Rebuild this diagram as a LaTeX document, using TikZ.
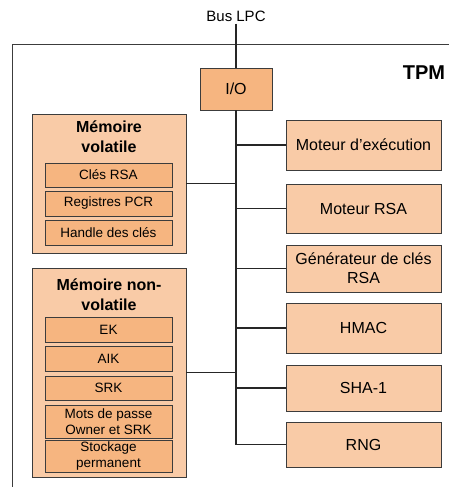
\documentclass[tikz,border=0pt]{standalone}
\usepackage{fontspec}
\setmainfont{Liberation Sans}

\definecolor{peach}{HTML}{F9CBA7}
\definecolor{peachdark}{HTML}{F6B580}
\definecolor{edgegray}{HTML}{3C3C3C}

\tikzset{
    blockbox/.style={draw=edgegray, fill=peach, line width=0.8pt, inner sep=0pt, align=center,
        font=\fontsize{16}{19}\selectfont},
    cellbox/.style={draw=edgegray, fill=peachdark, line width=0.8pt, inner sep=0pt, align=center,
        minimum width=127pt, font=\fontsize{13.5}{16}\selectfont},
    memtitle/.style={inner sep=0pt, align=center, font=\fontsize{16}{20}\selectfont\bfseries},
    wire/.style={draw=black!85, line width=1.6pt},
}

\begin{document}
\begin{tikzpicture}[
        x=1pt,   % 1 px = 1pt
        y=-1pt,  % y runs downwards, as in the image
    ]
    \useasboundingbox (0,0) rectangle (449,487);

    % TPM frame (cut by the picture edge)
    \draw[edgegray, line width=0.8pt] (449,44) -- (12,44) -- (12,487);
    \node[inner sep=0pt, font=\fontsize{20}{24}\selectfont\bfseries] (tpm) at (424,73) {TPM};

    % Bus and I/O
    \node[inner sep=2pt, font=\fontsize{15}{18}\selectfont] (lpc) at (236,16) {Bus LPC};
    \node[blockbox, fill=peachdark, minimum width=72pt, minimum height=42pt] (io) at (236,89) {I/O};
    \coordinate (busend) at (236,445);

    % Volatile memory
    \node[blockbox, minimum width=154pt, minimum height=139pt] (vol) at (109,183.5) {};
    \node[memtitle] (voltitle) at (109,137) {Mémoire\\volatile};
    \node[cellbox, minimum height=24pt] (rsakeys) at (108.5,175) {Clés RSA};
    \node[cellbox, minimum height=25pt] (pcr) at (108.5,203.5) {Registres PCR};
    \node[cellbox, minimum height=25pt] (handle) at (108.5,232.5) {Handle des clés};

    % Non-volatile memory
    \node[blockbox, minimum width=154pt, minimum height=209pt] (nonvol) at (109,372.5) {};
    \node[memtitle] (nonvoltitle) at (109,295) {Mémoire non-\\volatile};
    \node[cellbox, minimum height=25pt] (ek) at (108.5,329.5) {EK};
    \node[cellbox, minimum height=25pt] (aik) at (108.5,358.5) {AIK};
    \node[cellbox, minimum height=24pt] (srk) at (108.5,388) {SRK};
    \node[cellbox, minimum height=33pt] (pwd) at (108.5,421.5) {Mots de passe\\Owner et SRK};
    \node[cellbox, minimum height=32pt] (storage) at (108.5,456) {Stockage\\permanent};

    % Engines on the right
    \node[blockbox, minimum width=155pt, minimum height=50pt] (exec) at (363.5,145) {Moteur d’exécution};
    \node[blockbox, minimum width=155pt, minimum height=49pt] (rsa) at (363.5,208.5) {Moteur RSA};
    \node[blockbox, minimum width=155pt, minimum height=47pt] (keygen) at (363.5,268.5) {Générateur de clés\\RSA};
    \node[blockbox, minimum width=155pt, minimum height=50pt] (hmac) at (363.5,328) {HMAC};
    \node[blockbox, minimum width=155pt, minimum height=46pt] (sha) at (363.5,388) {SHA-1};
    \node[blockbox, minimum width=155pt, minimum height=45pt] (rng) at (363.5,444.5) {RNG};

    % Wires
    \draw[wire] (lpc.south) -- (io.north);
    \draw[wire] (io.south) -- (busend);
    \foreach \blk in {exec, rsa, keygen, hmac, sha, rng} {
        \draw[wire] (io.south |- \blk.west) -- (\blk.west);
    }
    \draw[wire] (vol.east) -- (io.south |- vol.east);
    \draw[wire] (nonvol.east) -- (io.south |- nonvol.east);

\end{tikzpicture}
\end{document}
